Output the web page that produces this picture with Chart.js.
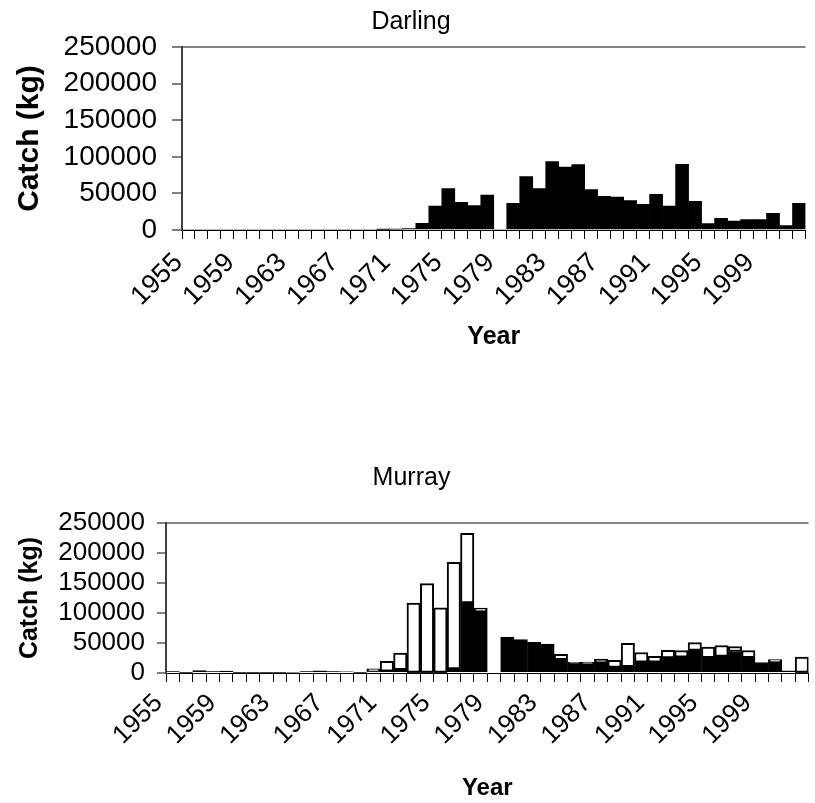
<!DOCTYPE html>
<html>
<head>
<meta charset="utf-8">
<title>Catch by year - Darling and Murray</title>
<script src="https://cdn.jsdelivr.net/npm/chart.js@4.4.1/dist/chart.umd.min.js"></script>
<style>
	body { margin: 0; overflow: hidden; background: #fff; }
	.panel { position: absolute; left: 0; }
	#darlingBox { top: 0; }
	#murrayBox { top: 390px; }
</style>
</head>
<body>
<div class="panel" id="darlingBox"><canvas id="darling" width="830" height="390"></canvas></div>
<div class="panel" id="murrayBox"><canvas id="murray" width="830" height="413"></canvas></div>
<script>
const years = ['1955','1956','1957','1958','1959','1960','1961','1962','1963','1964',
	'1965','1966','1967','1968','1969','1970','1971','1972','1973','1974',
	'1975','1976','1977','1978','1979','1980','1981','1982','1983','1984',
	'1985','1986','1987','1988','1989','1990','1991','1992','1993','1994',
	'1995','1996','1997','1998','1999','2000','2001','2002']
const yearLabels = ['1955','1959','1963','1967','1971','1975','1979','1983','1987','1991','1995','1999']
const catchTicks = [0, 50000, 100000, 150000, 200000, 250000]

// Darling catch (kg)
const darlingCatch = [0,0,0,0,0,0,0,0,0,0,
	0,0,0,0,0,800,1000,1800,9100,32800,
	56500,37800,33200,47800,0,36400,72900,56500,93400,86100,
	89300,55100,46000,45100,40100,35100,48700,32800,89700,39200,
	8700,15900,12300,14100,14100,22800,5900,36400]

// Murray catch (kg), black part and white part stacked on it
const murrayBlack = [2500,1000,4000,2500,3000,1000,800,800,800,1500,
	2500,3500,2500,2000,800,2500,3000,5500,1000,1000,
	1000,6700,116700,102000,0,60000,55600,51100,48300,22200,
	15500,15000,16700,9400,10500,18000,18000,25300,26400,37800,
	25500,27800,35800,25500,17500,18000,3600,1000]
const murrayWhite = [0,0,0,0,0,0,0,0,0,0,
	0,0,0,0,0,4500,16400,27800,115700,147900,
	107600,177700,116100,6300,0,0,0,0,0,8900,
	2300,3300,6600,11700,38900,16100,9800,12500,10800,12700,
	17500,18000,8300,12000,0,4200,0,25700]

Chart.defaults.font.family = "'Liberation Sans', Arial, sans-serif"
Chart.defaults.color = '#000'

let catchAxis = p => ({
	stacked: true,
	min: catchTicks[0],
	max: catchTicks[catchTicks.length - 1],
	afterFit: s => { s.width = p.width },
	ticks: {
		autoSkip: false,
		stepSize: catchTicks[1] - catchTicks[0],
		font: { size: p.tickSize },
		padding: p.tickPad,
		callback: v => String(v)
	},
	grid: {
		color: c => c.tick && c.tick.value === catchTicks[catchTicks.length - 1] ? '#868686' : 'rgba(0,0,0,0)',
		lineWidth: 2,
		tickColor: '#000',
		tickWidth: 1,
		tickLength: p.tickLen
	},
	border: { color: '#404040', width: 2 },
	title: {
		display: true,
		text: 'Catch (kg)',
		font: { size: p.titleSize, weight: 'bold' },
		padding: { top: p.titlePad, bottom: 0 }
	}
})

let yearAxis = p => ({
	stacked: true,
	afterFit: s => { s.height = p.height },
	ticks: {
		autoSkip: false,
		minRotation: 45,
		maxRotation: 45,
		font: { size: p.tickSize },
		padding: p.tickPad,
		labelOffset: p.shift,
		callback: (v, i) => yearLabels.includes(years[i]) ? years[i] : ''
	},
	grid: { offset: true, drawOnChartArea: false, color: '#000', tickLength: 9, tickWidth: 1 },
	border: { color: '#000', width: 1 },
	title: {
		display: true,
		text: 'Year',
		font: { size: p.titleSize, weight: 'bold' },
		padding: { top: 0, bottom: p.titlePad }
	}
})

let makeChart = (id, datasets, p) => new Chart(document.getElementById(id), {
	type: 'bar',
	data: { labels: years, datasets },
	options: {
		responsive: false,
		animation: false,
		layout: { padding: { left: 0, right: p.right, top: 0, bottom: 0 } },
		plugins: {
			legend: { display: false },
			tooltip: { enabled: false },
			title: {
				display: true,
				text: p.title,
				font: { size: 25, weight: 'normal' },
				padding: { top: p.titleTop, bottom: p.titleBottom }
			}
		},
		scales: {
			x: yearAxis(p.x),
			y: catchAxis(p.y)
		}
	}
})

makeChart('darling', [{
	data: darlingCatch,
	backgroundColor: '#000',
	borderColor: '#000',
	borderWidth: 0,
	categoryPercentage: 1,
	barPercentage: 1
}], {
	title: 'Darling', titleTop: 7, titleBottom: 10, right: 8,
	x: { height: 160, tickSize: 27, tickPad: 8, shift: -10, titleSize: 25, titlePad: 38 },
	y: { width: 182, tickSize: 28, tickPad: 15, tickLen: 10, titleSize: 30, titlePad: 12 }
})

makeChart('murray', [{
	data: murrayBlack,
	backgroundColor: '#000',
	borderColor: '#000',
	borderWidth: 1,
	categoryPercentage: 1,
	barPercentage: 1
}, {
	data: murrayWhite,
	backgroundColor: '#fff',
	borderColor: '#000',
	borderWidth: 2,
	borderSkipped: false,
	categoryPercentage: 1,
	barPercentage: 1
}], {
	title: 'Murray', titleTop: 73, titleBottom: 30, right: 7,
	x: { height: 130, tickSize: 26, tickPad: 6, shift: -14, titleSize: 24, titlePad: 0 },
	y: { width: 166, tickSize: 26, tickPad: 12, tickLen: 9, titleSize: 25, titlePad: 15 }
})
</script>
</body>
</html>
